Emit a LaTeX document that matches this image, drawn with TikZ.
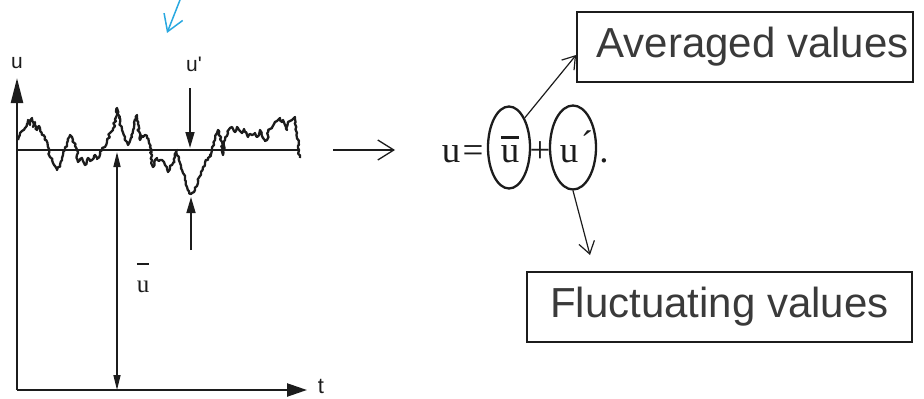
\documentclass[tikz,border=0pt]{standalone}
\usepackage{fontspec}
\setmainfont{Liberation Serif}
\newfontfamily\labelsans{Liberation Sans}
\usetikzlibrary{arrows.meta,shapes.geometric,decorations.pathmorphing}

\definecolor{inkline}{HTML}{1C1C1C}
\definecolor{boxtext}{HTML}{3A3A3A}
\definecolor{pointer}{HTML}{29A8E0}

% a "u" with a bar above it: #1 raise of the bar, #2 bar length, #3 bar thickness
\newcommand{\barredu}[3]{\leavevmode\rlap{\raisebox{#1}{\rule{#2}{#3}}}u}

\begin{document}
\begin{tikzpicture}[x=1pt,y=-1pt,
  axis/.style={line width=2.4pt, draw=inkline},
  meanline/.style={line width=1.8pt, draw=inkline},
  signal/.style={line width=2.3pt, draw=inkline, line join=round,
    decorate, decoration={random steps, segment length=2.2pt, amplitude=1.3pt}},
  marker/.style={line width=1.6pt, draw=inkline},
  plotlabel/.style={inner sep=0pt, text=inkline, font=\labelsans\fontsize{21}{24}\selectfont},
  eqglyph/.style={inner sep=0pt, anchor=base, text=inkline, font=\fontsize{37}{40}\selectfont},
  ring/.style={ellipse, draw=inkline, line width=2.3pt, inner sep=0pt},
  valuebox/.style={draw=inkline, line width=1.8pt, inner sep=0pt, text=boxtext,
    font=\labelsans\fontsize{42}{48}\selectfont},
  callout/.style={line width=1.2pt, draw=inkline, -{Straight Barb[length=12pt,width=16pt]}},
]
\useasboundingbox (0,0) rectangle (924,399);
\pgfmathsetseed{11}

% ---------- time signal ----------
\coordinate (origin) at (17,390);
\coordinate (ytip) at (17,78);
\coordinate (ttip) at (307,390);
\coordinate (meanL) at (17,150);
\coordinate (meanR) at (300,150);

\draw[axis, -{Triangle[length=25pt,width=12pt]}] (origin) -- (ytip);
\draw[axis, -{Triangle[length=20pt,width=13pt]}] (origin) -- (ttip);
\draw[meanline] (meanL) -- (meanR);

\draw[signal] plot coordinates {
 (18,140) (20,133) (22,131) (25,128) (27,124) (28,120) (30,125) (32,118) (33,127)
 (35,122) (37,130) (39,126) (40,128) (42,135) (45,137) (48,147) (50,157) (52,160)
 (53,163) (55,166) (57,170) (60,165) (62,160) (63,155) (65,150) (67,143) (70,135)
 (72,137) (73,140) (75,146) (77,150) (78,162) (80,159) (82,158) (84,163) (85,165)
 (87,160) (88,158) (90,161) (92,160) (94,156) (95,155) (97,159) (98,158) (100,152)
 (102,148) (105,147) (107,142) (110,133) (113,130) (115,120) (117,108) (119,118)
 (120,123) (122,130) (125,137) (127,142) (128,145) (130,141) (132,137) (134,127)
 (137,115) (138,124) (140,140) (142,136) (143,137) (145,135) (147,138) (149,143)
 (150,147) (152,160) (153,167) (155,160) (157,158) (159,161) (160,160) (162,160)
 (164,162) (165,165) (167,169) (168,172) (170,168) (172,165) (175,157) (177,150)
 (178,156) (180,163) (182,170) (183,173) (185,180) (187,187) (189,191) (191,194)
 (192,193) (194,192) (195,190) (197,186) (198,183) (200,176) (203,167) (205,163)
 (208,158) (210,155) (212,150) (214,145) (215,140) (217,133) (218,130) (220,136)
 (222,142) (223,155) (224,146) (225,140) (227,136) (228,133) (230,128) (232,127)
 (234,131) (235,132) (237,127) (238,128) (240,131) (242,133) (244,129) (245,132)
 (247,135) (248,137) (250,134) (252,135) (255,133) (257,137) (259,134) (260,130)
 (262,136) (263,138) (265,141) (267,140) (268,130) (270,129) (272,128) (274,124)
 (275,122) (277,121) (280,118) (282,122) (283,120) (285,125) (287,130) (288,122)
 (290,121) (292,120) (294,118) (295,117) (297,133) (299,150) (300,158)};

% mean value and fluctuation markers
\coordinate (meanTop) at (117,152);
\coordinate (meanBot) at (117,390);
\draw[marker, {Triangle[length=15pt,width=7pt]}-{Triangle[length=15pt,width=7pt]}]
  (meanTop) -- (meanBot);
\coordinate (flA) at (190,88);
\coordinate (flAtip) at (190,148);
\coordinate (flB) at (191,250);
\coordinate (flBtip) at (191,197);
\draw[marker, -{Triangle[length=16pt,width=9pt]}] (flA) -- (flAtip);
\draw[marker, -{Triangle[length=16pt,width=9pt]}] (flB) -- (flBtip);

\node[plotlabel] (ulab) at (17,63) {u};
\node[plotlabel] (uplab) at (194,64) {u\textquotesingle};
\node[plotlabel, anchor=base, font=\fontsize{25}{27}\selectfont] (ubarlab) at (143,292)
  {\barredu{27pt}{12.5pt}{2pt}};
\node[plotlabel, anchor=base, font=\labelsans\fontsize{22}{24}\selectfont] (tlab) at (321,393) {t};

% ---------- decomposition ----------
\coordinate (impL) at (333,150);
\coordinate (impR) at (395,150);
\draw[line width=1.3pt, draw=inkline, -{Straight Barb[length=16pt,width=20pt]}] (impL) -- (impR);

\node[eqglyph] (eqU) at (451,162) {u};
\node[eqglyph] (eqEq) at (473,162) {=};
\node[eqglyph] (eqMean) at (510,162) {\barredu{23pt}{18.5pt}{3.2pt}};
\node[eqglyph] (eqPlus) at (540,162) {+};
\node[eqglyph] (eqFl) at (569,162) {u};
\node[eqglyph] (eqPrime) at (587,156) {´};
\node[eqglyph] (eqDot) at (604,162) {.};

\node[ring, minimum width=42pt, minimum height=82pt] (e1) at (509,147.5) {};
\node[ring, minimum width=46pt, minimum height=84pt] (e2) at (573,147.5) {};

\node[valuebox, minimum width=336pt, minimum height=70pt] (avg) at (745,47)
  {\hspace*{15pt}Averaged values};
\node[valuebox, minimum width=385pt, minimum height=70pt] (flu) at (719.5,307)
  {Fluctuating values};

\coordinate (avgIn) at ([yshift=-8pt]avg.west);
\coordinate (fluIn) at (590,255);
\draw[callout] (e1.62) -- (avgIn);
\draw[callout] (e2.south) -- (fluIn);

% ---------- blue pointer at the top ----------
\coordinate (ptrStart) at (180,0);
\coordinate (ptrEnd) at (167,33);
\draw[line width=1.5pt, draw=pointer, -{Straight Barb[length=16pt,width=20pt]}] (ptrStart) -- (ptrEnd);
\end{tikzpicture}
\end{document}
